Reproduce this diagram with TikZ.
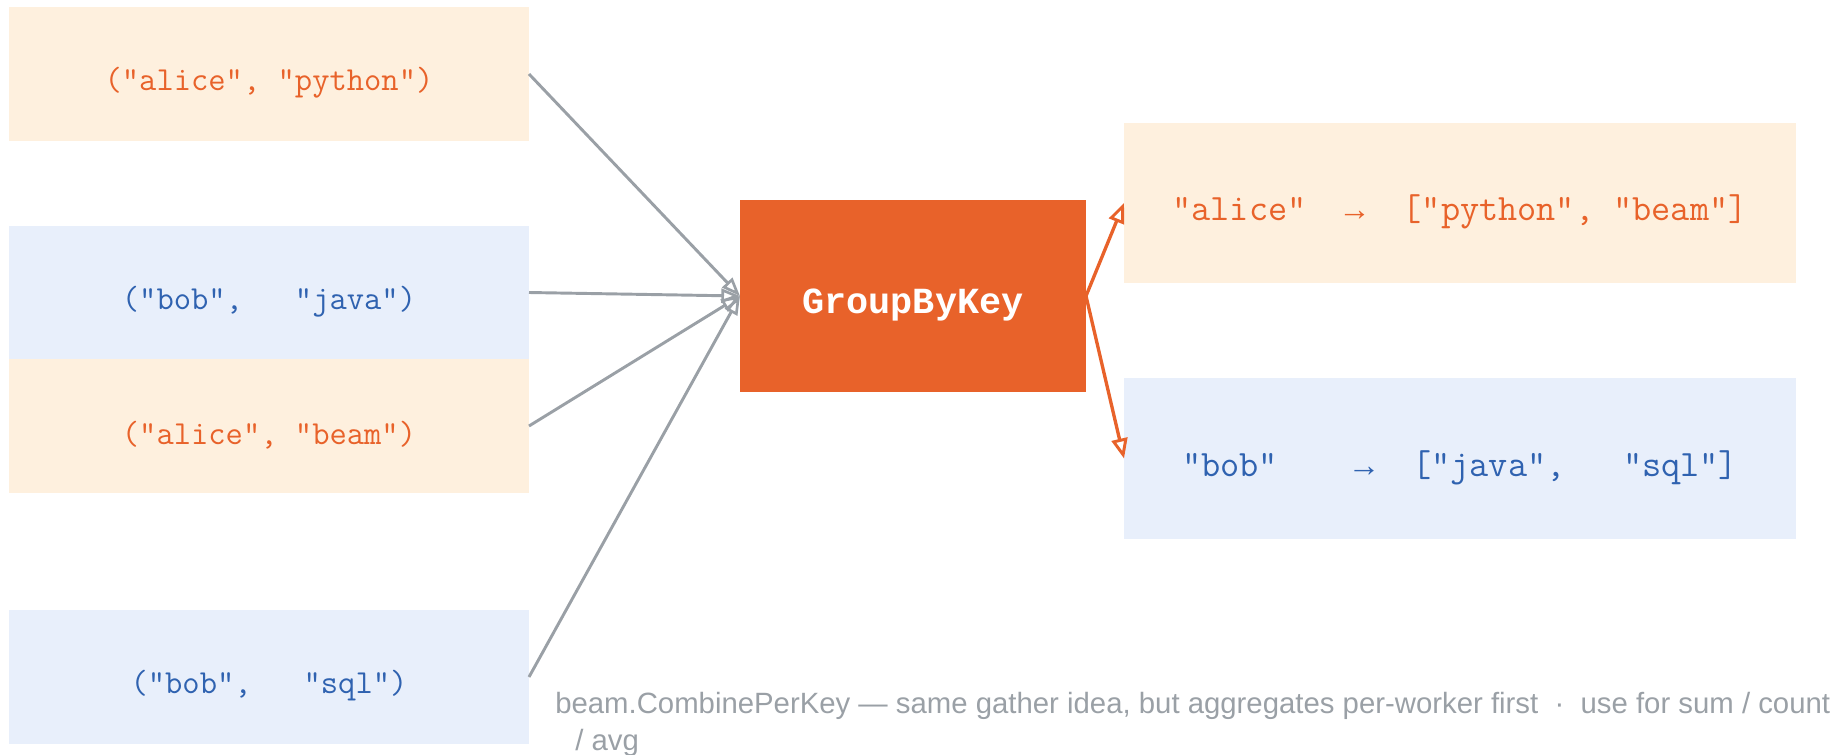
\documentclass[tikz,border=0pt]{standalone}
\usepackage{fontspec}
\setmainfont{Liberation Sans}
\newfontfamily\monoalt{Liberation Mono}
\usetikzlibrary{arrows.meta}

\definecolor{peach}{HTML}{FEF0DE}
\definecolor{paleblue}{HTML}{E8EFFB}
\definecolor{beamorange}{HTML}{E8622A}
\definecolor{keyblue}{HTML}{2F62B0}
\definecolor{wiregray}{HTML}{9AA0A6}

% set box text a little below the geometric centre, keeping the box size
\newcommand{\droptext}[1]{\raisebox{-6.75pt}[\height][\depth]{#1}}
% mapping arrow, one monospace cell wide
\newcommand{\maparrow}{{\monoalt\fontsize{24.4pt}{28pt}\selectfont →}}

\tikzset{
  pairbox/.style={minimum width=390pt, minimum height=100.5pt, inner sep=0pt, outer sep=0pt,
    font=\fontsize{25.2pt}{29pt}\selectfont\ttfamily},
  resultbox/.style={minimum width=504pt, minimum height=120pt, inner sep=0pt, outer sep=0pt,
    font=\fontsize{27.9pt}{32pt}\selectfont\ttfamily},
  alicefill/.style={fill=peach, text=beamorange},
  bobfill/.style={fill=paleblue, text=keyblue},
  opbox/.style={fill=beamorange, text=white, minimum width=259.5pt, minimum height=144pt,
    inner sep=0pt, outer sep=0pt, font=\fontsize{27.6pt}{32pt}\selectfont\monoalt\bfseries},
  wire/.style={draw=wiregray, line width=2.2pt,
    -{Triangle[open, length=14pt, width=10.5pt, line width=2pt]}},
  fanout/.style={draw=beamorange, line width=2.5pt,
    -{Triangle[open, length=15pt, width=12pt, line width=2.2pt]}},
  notetext/.style={anchor=base west, inner sep=0pt, text=wiregray,
    font=\fontsize{22pt}{26pt}\selectfont},
}

\begin{document}
\begin{tikzpicture}[x=0.75pt, y=-0.75pt]
  \useasboundingbox (0,0) rectangle (1839,754);

  % input key/value pairs
  \node[pairbox, alicefill] (p1) at (269,74)    {\droptext{("alice", "python")}};
  \node[pairbox, bobfill]   (p2) at (269,292.5) {\droptext{("bob",\ \ \ "java")}};
  \node[pairbox, alicefill] (p3) at (269,426)   {\droptext{("alice", "beam")}};
  \node[pairbox, bobfill]   (p4) at (269,677)   {\droptext{("bob",\ \ \ "sql")}};

  % the shuffle step
  \node[opbox] (gbk) at (913,296) {\droptext{GroupByKey}};

  % grouped results
  \node[resultbox, alicefill] (r1) at (1460,203)
    {\droptext{"alice"\ \ \maparrow\ \ ["python", "beam"]}};
  \node[resultbox, bobfill, minimum height=120.75pt] (r2) at (1460,458.5)
    {\droptext{"bob"\ \ \ \ \maparrow\ \ ["java",\ \ \ "sql"]}};

  % connectors
  \draw[wire] (p1.east) -- (gbk.west);
  \draw[wire] (p2.east) -- (gbk.west);
  \draw[wire] (p3.east) -- (gbk.west);
  \draw[wire] (p4.east) -- (gbk.west);
  \draw[fanout] (gbk.east) -- (r1.west);
  \draw[fanout] (gbk.east) -- (r2.west);

  % footnote
  \node[notetext] (note1) at (555,713)
    {beam.CombinePerKey — same gather idea, but aggregates per-worker first\ \ ·\ \ use for sum / count};
  \node[notetext] (note2) at (575,750) {/ avg};
\end{tikzpicture}
\end{document}
